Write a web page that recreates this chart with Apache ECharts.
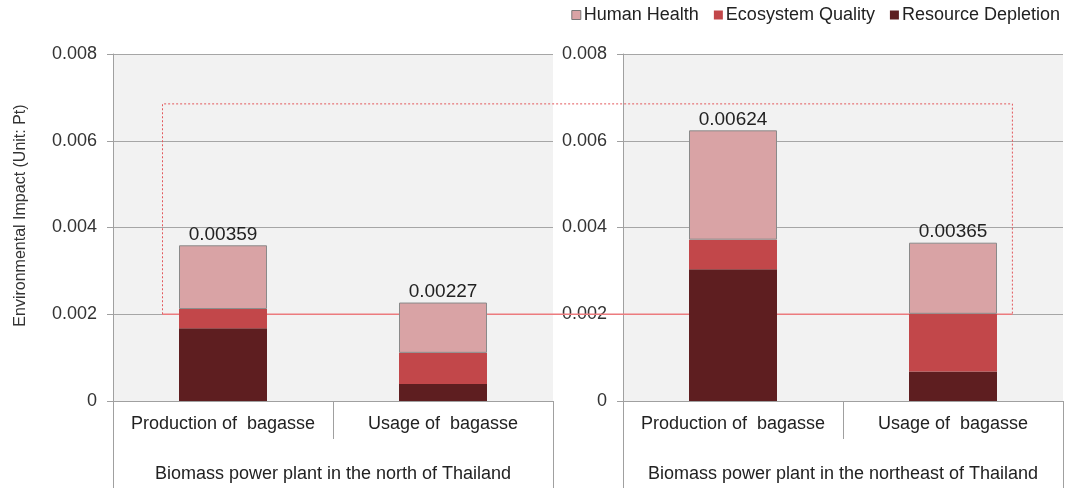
<!DOCTYPE html>
<html>
<head>
<meta charset="utf-8">
<title>Environmental impact of bagasse</title>
<script src="https://cdn.jsdelivr.net/npm/echarts@6/dist/echarts.min.js"></script>
<style>
  html, body { margin: 0; padding: 0; background: #ffffff; }
  #chart { width: 1069px; height: 488px; }
</style>
</head>
<body>
<div id="chart"></div>
<script>
// Stage categories shown under each panel
const stages = ['Production of  bagasse', 'Usage of  bagasse'];
// Plant locations (one panel each)
const plants = ['Biomass power plant in the north of Thailand', 'Biomass power plant in the northeast of Thailand'];
// Impact categories, legend order
const impactNames = ['Human Health', 'Ecosystem Quality', 'Resource Depletion'];

// Impact values (Pt) per panel: [production, usage]
const northResource = [0.00168, 0.00039];
const northEcosystem = [0.00044, 0.00072];
const northHealth = [0.00147, 0.00116];
const northeastResource = [0.00304, 0.00068];
const northeastEcosystem = [0.00068, 0.00133];
const northeastHealth = [0.00252, 0.00164];

// Y axis ticks
const yMin = 0, yMax = 0.008, yStep = 0.002;
// Highlighted band (Pt)
const bandLow = 0.002, bandHigh = 0.00685;

const colors = {
  'Human Health': '#d9a3a5',
  'Ecosystem Quality': '#c2474a',
  'Resource Depletion': '#5e1e20'
};
const FONT = "'Liberation Sans', Arial, sans-serif";
const axisGrey = '#a0a0a0';

const panels = [
  { plant: plants[0], resource: northResource, ecosystem: northEcosystem, health: northHealth },
  { plant: plants[1], resource: northeastResource, ecosystem: northeastEcosystem, health: northeastHealth }
];

const grids = [
  { left: 113, top: 54, width: 440, height: 347 },
  { left: 623, top: 54, width: 440, height: 347 }
];
grids.forEach(g => { g.show = true; g.backgroundColor = '#f2f2f2'; g.borderWidth = 0; });

const xAxes = [];
const yAxes = [];
const series = [];

panels.forEach((p, i) => {
  // stage labels with short separators
  xAxes.push({
    gridIndex: i, type: 'category', position: 'bottom', data: stages,
    axisLine: { show: true, lineStyle: { color: axisGrey, width: 1 } },
    axisTick: { show: true, interval: 0, length: 38, lineStyle: { color: axisGrey } },
    axisLabel: { interval: 0, margin: 14, fontSize: 18, color: '#222', fontFamily: FONT }
  });
  // plant label with full-height outer borders
  xAxes.push({
    gridIndex: i, type: 'category', position: 'bottom', data: [p.plant],
    axisLine: { show: false },
    axisTick: { show: true, length: 87, lineStyle: { color: axisGrey } },
    axisLabel: { margin: 64, fontSize: 18, color: '#222', fontFamily: FONT }
  });
  yAxes.push({
    gridIndex: i, type: 'value', min: yMin, max: yMax, interval: yStep,
    name: i === 0 ? 'Environmental Impact (Unit: Pt)' : '',
    nameLocation: 'middle', nameGap: 84,
    nameTextStyle: { fontSize: 16, color: '#333', fontFamily: FONT, padding: [0, 0, 0, 24] },
    axisLine: { show: true, lineStyle: { color: axisGrey } },
    axisTick: { show: true, length: 6, lineStyle: { color: axisGrey } },
    axisLabel: {
      margin: 16, fontSize: 18, color: '#333', fontFamily: FONT,
      formatter: v => (v === 0 ? '0' : v.toFixed(3))
    },
    splitLine: { show: true, lineStyle: { color: '#a6a6a6', width: 1 } }
  });

  const xIdx = i * 2;
  const stack = 'impact' + i;
  const layers = [
    { name: 'Resource Depletion', data: p.resource },
    { name: 'Ecosystem Quality', data: p.ecosystem },
    { name: 'Human Health', data: p.health }
  ];
  layers.forEach((layer, k) => {
    const isTop = k === layers.length - 1;
    series.push({
      type: 'bar', name: layer.name, stack: stack,
      xAxisIndex: xIdx, yAxisIndex: i,
      barWidth: 88,
      data: layer.data,
      itemStyle: {
        color: colors[layer.name],
        borderColor: isTop ? '#8a8a8a' : colors[layer.name],
        borderWidth: isTop ? 1 : 0
      },
      label: isTop ? {
        show: true, position: 'top', distance: 1,
        fontSize: 19, color: '#222', fontFamily: FONT,
        formatter: params => {
          const j = params.dataIndex;
          return (p.resource[j] + p.ecosystem[j] + p.health[j]).toFixed(5);
        }
      } : { show: false },
      emphasis: { disabled: true }
    });
  });
});

const chart = echarts.init(document.getElementById('chart'), null, { renderer: 'canvas' });
chart.setOption({
  backgroundColor: '#ffffff',
  animation: false,
  textStyle: { fontFamily: FONT },
  legend: {
    data: impactNames.map(n => ({
      name: n,
      itemStyle: n === 'Human Health' ? { borderColor: '#777', borderWidth: 1 } : { borderWidth: 0 }
    })),
    top: 1, right: 4,
    itemWidth: 9, itemHeight: 9, itemGap: 15,
    icon: 'rect',
    selectedMode: false,
    textStyle: { fontSize: 18, color: '#222', fontFamily: FONT, padding: [0, 0, 0, -2] }
  },
  grid: grids,
  xAxis: xAxes,
  yAxis: yAxes,
  series: series
});

// Highlight frame spanning both panels between bandLow and bandHigh
const band = 440 / stages.length;
const xLeft = chart.convertToPixel({ xAxisIndex: 0 }, stages[0]) - 0.275 * band;
const xRight = chart.convertToPixel({ xAxisIndex: 2 }, stages[1]) + 0.27 * band;
const yBottom = chart.convertToPixel({ yAxisIndex: 0 }, bandLow);
const yTop = chart.convertToPixel({ yAxisIndex: 0 }, bandHigh);

chart.setOption({
  graphic: [
    {
      type: 'polyline', z: 1, silent: true,
      shape: { points: [[xLeft, yBottom], [xLeft, yTop], [xRight, yTop], [xRight, yBottom]] },
      style: { fill: null, stroke: '#e3585c', lineWidth: 1, lineDash: [2, 2] }
    },
    {
      type: 'line', z: 1, silent: true,
      shape: { x1: xLeft, y1: yBottom, x2: xRight, y2: yBottom },
      style: { stroke: '#ec7b7e', lineWidth: 1.5 }
    }
  ]
});
</script>
</body>
</html>
